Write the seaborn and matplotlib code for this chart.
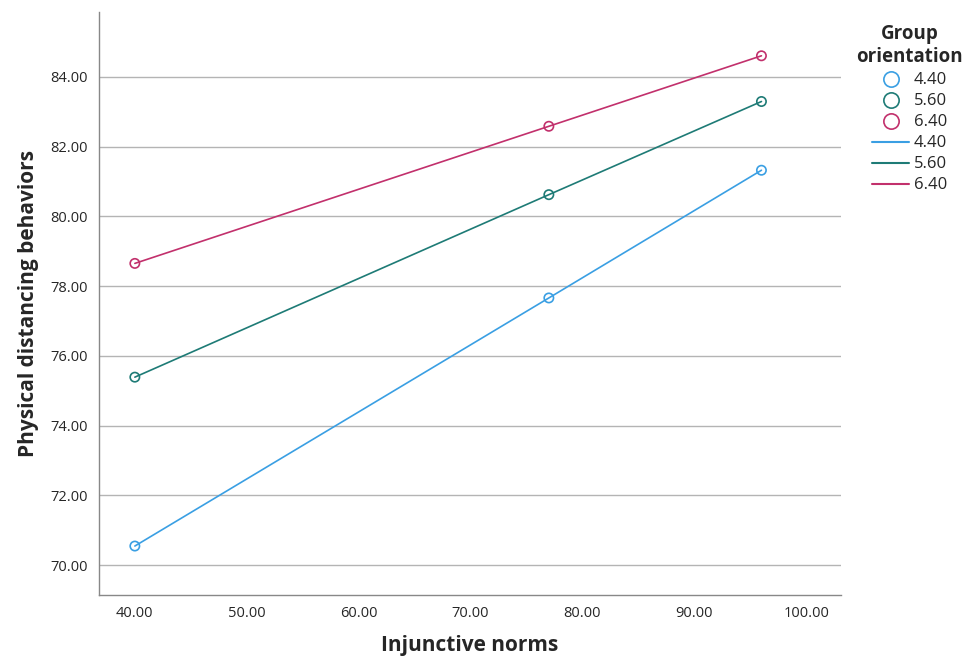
import numpy as np
import pandas as pd
import matplotlib
matplotlib.use("Agg")
import matplotlib.pyplot as plt
from matplotlib.lines import Line2D
import seaborn as sns

# data
injunctive = [40.0, 77.0, 96.0]
group_levels = ["4.40", "5.60", "6.40"]
pd_440 = [70.55, 77.66, 81.32]
pd_560 = [75.39, 80.62, 83.29]
pd_640 = [78.65, 82.58, 84.60]
y_ticks = [70, 72, 74, 76, 78, 80, 82, 84]
x_ticks = [40, 50, 60, 70, 80, 90, 100]

colors = {"4.40": "#3a9fe3", "5.60": "#1e7b76", "6.40": "#c2306c"}

df = pd.DataFrame({
    "Injunctive norms": injunctive * 3,
    "Physical distancing behaviors": pd_440 + pd_560 + pd_640,
    "Group orientation": np.repeat(group_levels, len(injunctive)),
})

sns.set_style("white")
plt.rcParams["font.family"] = ["Open Sans", "DejaVu Sans"]

fig = plt.figure(figsize=(9.71, 6.57), dpi=100)
ax = fig.add_axes([0.102, 0.094, 0.764, 0.888])

sns.lineplot(data=df, x="Injunctive norms", y="Physical distancing behaviors",
             hue="Group orientation", palette=colors, linewidth=1.2, ax=ax, legend=False)
sns.scatterplot(data=df, x="Injunctive norms", y="Physical distancing behaviors",
                hue="Group orientation", palette=colors, s=45, marker="o",
                linewidth=1.2, ax=ax, legend=False, zorder=3)

# open circles coloured by group
pts = ax.collections[-1]
pts.set_edgecolors([colors[g] for g in df["Group orientation"]])
pts.set_facecolor("none")

ax.set_xlim(36.8, 103.1)
ax.set_ylim(69.14, 85.86)
ax.set_xticks(x_ticks)
ax.set_yticks(y_ticks)
ax.set_xticklabels([f"{v:.2f}" for v in x_ticks], fontsize=10.5)
ax.set_yticklabels([f"{v:.2f}" for v in y_ticks], fontsize=10.5)
ax.tick_params(length=0, pad=8)
ax.yaxis.grid(True, color="#b4b4b4", linewidth=1)
ax.xaxis.grid(False)
for s in ["top", "right"]:
    ax.spines[s].set_visible(False)
for s in ["left", "bottom"]:
    ax.spines[s].set_color("#888888")
    ax.spines[s].set_linewidth(1)
ax.set_xlabel("Injunctive norms", fontsize=15, fontweight="bold", labelpad=10)
ax.set_ylabel("Physical distancing behaviors", fontsize=15, fontweight="bold", labelpad=8)

# legend: circles first, then lines
circ = [Line2D([], [], marker="o", linestyle="none", markersize=11, markerfacecolor="none",
               markeredgecolor=colors[g], markeredgewidth=1.2) for g in group_levels]
lns = [Line2D([], [], color=colors[g], linewidth=1.5) for g in group_levels]
leg = fig.legend(circ + lns, group_levels + group_levels, title="Group\norientation",
                 loc="upper center", bbox_to_anchor=(0.937, 0.968), frameon=False,
                 fontsize=12, title_fontproperties={"weight": "bold", "size": 13.5},
                 handlelength=2.2, handletextpad=0.3, labelspacing=0.3,
                 borderaxespad=0, borderpad=0.2)
leg.get_title().set_multialignment("center")

fig.savefig("out.png", dpi=100)
